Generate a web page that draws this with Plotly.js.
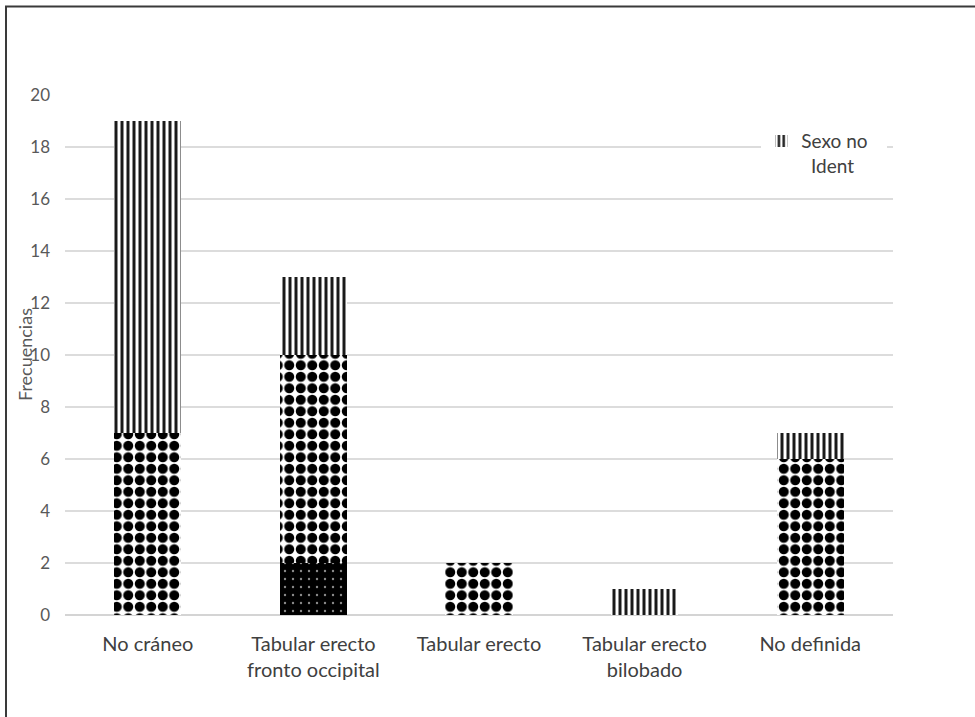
<!DOCTYPE html>
<html>
<head>
<meta charset="utf-8">
<script src="https://cdn.plot.ly/plotly-3.0.1.min.js"></script>
<style>
  html, body { margin: 0; padding: 0; background: #ffffff; }
  #chart { width: 975px; height: 717px; }
</style>
</head>
<body>
<div id="chart"></div>
<script>
// Cranial deformation types and frequencies by sex
const categories = [
  'No cráneo',
  'Tabular erecto<br>fronto occipital',
  'Tabular erecto',
  'Tabular erecto<br>bilobado',
  'No definida'
];
const seriesNames = ['Masculino', 'Femenino', 'Sexo no\u00A0\u00A0\u00A0<br>\u00A0\u00A0Ident'];
const masculino = [0, 2, 0, 0, 0];
const femenino = [7, 8, 2, 0, 6];
const sexoNoIdent = [12, 3, 0, 1, 1];
const yTicks = [0, 2, 4, 6, 8, 10, 12, 14, 16, 18, 20];

const textGray = '#595959';
const fontFamily = 'Lato, "Open Sans", sans-serif';

const traces = [
  {
    type: 'bar', name: seriesNames[0], x: categories, y: masculino,
    showlegend: false,
    marker: {
      color: '#000000', line: { width: 0 },
      pattern: { shape: '.', bgcolor: '#000000', fgcolor: '#8a8a8a', size: 8, solidity: 0.07, fillmode: 'replace' }
    }
  },
  {
    type: 'bar', name: seriesNames[1], x: categories, y: femenino,
    showlegend: false,
    marker: {
      color: '#ffffff', line: { width: 0 },
      pattern: { shape: '.', bgcolor: '#ffffff', fgcolor: '#000000', size: 11.5, solidity: 0.6, fillmode: 'replace' }
    }
  },
  {
    type: 'bar', name: seriesNames[2], x: categories, y: sexoNoIdent,
    showlegend: true,
    marker: {
      color: '#ffffff', line: { width: 0 },
      pattern: { shape: '|', bgcolor: '#ffffff', fgcolor: '#1a1a1a', size: 6, solidity: 0.5, fillmode: 'replace' }
    }
  }
];

const layout = {
  width: 975, height: 717,
  margin: { l: 65, r: 82, t: 95, b: 102, pad: 0 },
  paper_bgcolor: '#ffffff', plot_bgcolor: '#ffffff',
  barmode: 'stack', bargap: 0.595,
  font: { family: fontFamily, color: textGray },
  showlegend: true,
  legend: {
    x: 0.841, y: 0.948, xanchor: 'left', yanchor: 'top',
    bgcolor: '#ffffff', valign: 'top',
    font: { family: fontFamily, size: 19, color: '#404040' },
    itemwidth: 30, tracegroupgap: 0
  },
  xaxis: {
    type: 'category', showgrid: false, zeroline: false,
    showline: false, ticks: '',
    tickfont: { family: fontFamily, size: 20, color: '#404040' },
    ticklabelstandoff: 15
  },
  yaxis: {
    range: [0, 20], tickvals: yTicks, ticktext: yTicks.map(String),
    showgrid: true, gridcolor: '#dcdcdc', gridwidth: 1.3,
    zeroline: true, zerolinecolor: '#d4d4d4', zerolinewidth: 1.5,
    showline: false, ticks: '',
    tickfont: { family: fontFamily, size: 17, color: textGray },
    ticklabelstandoff: 14
  },
  annotations: [
    {
      text: 'Frecuencias', xref: 'paper', yref: 'paper',
      x: (25 - 65) / 828, y: (615 - 355) / 520,
      xanchor: 'center', yanchor: 'middle', textangle: -90, showarrow: false,
      font: { family: fontFamily, size: 18, color: textGray }
    }
  ],
  shapes: [
    {
      type: 'rect', xref: 'paper', yref: 'paper',
      x0: (6 - 65) / 828, x1: 1.3, y0: -0.4, y1: (615 - 6.5) / 520,
      line: { color: '#3a3a3a', width: 2 }, fillcolor: 'rgba(0,0,0,0)', layer: 'above'
    }
  ]
};

Plotly.newPlot('chart', traces, layout, { displayModeBar: false, staticPlot: true });
</script>
</body>
</html>
